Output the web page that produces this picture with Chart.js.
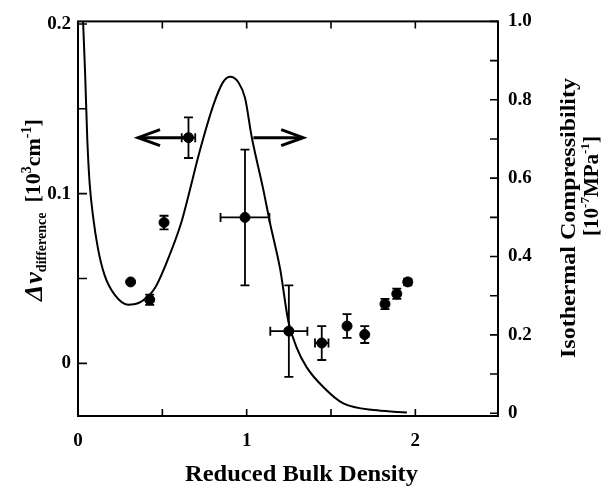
<!DOCTYPE html>
<html>
<head>
<meta charset="utf-8">
<script src="https://cdn.jsdelivr.net/npm/chart.js@4"></script>
<style>
  html, body { margin: 0; background: #fff; }
</style>
</head>
<body>
<canvas id="c" width="607" height="487"></canvas>
<script>
// ## measured points (left axis) ##
const densX = [0.312, 0.425, 0.51, 0.655, 0.99, 1.25, 1.445, 1.595, 1.70, 1.82, 1.89, 1.955];
const deltaNu = [0.048, 0.0375, 0.083, 0.133, 0.086, 0.019, 0.012, 0.022, 0.017, 0.035, 0.041, 0.048];
const deltaNuErr = [0, 0.003, 0.004, 0.012, 0.04, 0.027, 0.01, 0.007, 0.005, 0.003, 0.003, 0.002];
const densErr = [0, 0.012, 0, 0.04, 0.145, 0.11, 0.04, 0, 0, 0, 0, 0];

// ## compressibility curve (right axis) ##
const curveX = [0.022, 0.03, 0.042, 0.055, 0.069, 0.089, 0.119, 0.158, 0.218, 0.296, 0.375, 0.455, 0.534, 0.612, 0.644, 0.723, 0.803, 0.86, 0.902, 0.95, 0.99, 1.03, 1.099, 1.138, 1.198, 1.247, 1.297, 1.356, 1.454, 1.573, 1.773, 1.95];
const curveY = [1.08, 1.0, 0.87, 0.70, 0.587, 0.503, 0.419, 0.352, 0.302, 0.277, 0.285, 0.319, 0.394, 0.486, 0.537, 0.671, 0.787, 0.845, 0.859, 0.845, 0.805, 0.705, 0.570, 0.486, 0.369, 0.235, 0.167, 0.117, 0.067, 0.025, 0.0075, 0.002];

// ## ticks ##
const xTicks = [0, 0.5, 1, 1.5, 2];
const xLabels = ["0", "", "1", "", "2"];
const leftTicks = [0, 0.05, 0.1, 0.15, 0.2];
const leftLabels = ["0", "", "0.1", "", "0.2"];
const rightTicks = [0, 0.1, 0.2, 0.3, 0.4, 0.5, 0.6, 0.7, 0.8, 0.9, 1.0];
const rightLabels = ["0", "", "0.2", "", "0.4", "", "0.6", "", "0.8", "", "1.0"];

// arrows pointing at the axis each series belongs to (data coords)
const arrowY = 0.133;
const leftArrowX = [0.655, 0.356];
const rightArrowX = [1.04, 1.335];

const SERIF = '"Liberation Serif", "Times New Roman", serif';

function labelFor(vals, labels) {
  return (v) => {
    const i = vals.findIndex((t) => Math.abs(t - v) < 1e-9);
    return i < 0 ? "" : labels[i];
  };
}

function onlyLabeled(vals, labels) {
  return (scale) => {
    scale.ticks = vals.filter((v, i) => labels[i] !== "").map((v) => ({ value: v }));
  };
}

function arrow(ctx, x1, x2, y) {
  const dir = Math.sign(x2 - x1);
  ctx.beginPath();
  ctx.moveTo(x1, y);
  ctx.lineTo(x2 - dir * 4, y);
  ctx.stroke();
  ctx.beginPath();
  ctx.moveTo(x2 - dir * 22, y - 8);
  ctx.lineTo(x2, y);
  ctx.lineTo(x2 - dir * 22, y + 8);
  ctx.stroke();
}

// text squeezed/stretched to a given width, left aligned at x
function fitText(ctx, t, font, x, y, w) {
  ctx.font = font;
  const k = w / ctx.measureText(t).width;
  ctx.save();
  ctx.translate(x, y);
  ctx.scale(k, 1);
  ctx.fillText(t, 0, 0);
  ctx.restore();
  return x + w;
}

// draws text pieces one after another along the current x direction
function runs(ctx, parts, x, y) {
  for (const p of parts) {
    ctx.font = p.font;
    ctx.fillText(p.t, x, y + (p.dy || 0));
    x += ctx.measureText(p.t).width + (p.after || 0);
  }
  return x;
}

function runsWidth(ctx, parts) {
  let w = 0;
  for (const p of parts) {
    ctx.font = p.font;
    w += ctx.measureText(p.t).width + (p.after || 0);
  }
  return w;
}

const decor = {
  id: "decor",
  afterDatasetsDraw(chart) {
    const ctx = chart.ctx;
    const a = chart.chartArea;
    const sx = chart.scales.x, sl = chart.scales.yL, sr = chart.scales.yR;
    ctx.save();
    ctx.strokeStyle = "#000";
    ctx.fillStyle = "#000";

    // frame
    ctx.lineWidth = 2;
    ctx.strokeRect(a.left, a.top, a.right - a.left, a.bottom - a.top);

    // inward ticks
    ctx.lineWidth = 1.6;
    ctx.beginPath();
    xTicks.forEach((v) => {
      const px = sx.getPixelForValue(v);
      ctx.moveTo(px, a.bottom); ctx.lineTo(px, a.bottom - 7);
      ctx.moveTo(px, a.top); ctx.lineTo(px, a.top + 7);
    });
    leftTicks.forEach((v) => {
      const py = sl.getPixelForValue(v);
      ctx.moveTo(a.left, py); ctx.lineTo(a.left + 9, py);
    });
    rightTicks.forEach((v) => {
      const py = sr.getPixelForValue(v);
      ctx.moveTo(a.right, py); ctx.lineTo(a.right - 8, py);
    });
    ctx.stroke();

    // error bars
    ctx.lineWidth = 1.8;
    densX.forEach((x, i) => {
      const px = sx.getPixelForValue(x);
      const py = sl.getPixelForValue(deltaNu[i]);
      if (deltaNuErr[i] > 0) {
        const t = sl.getPixelForValue(deltaNu[i] + deltaNuErr[i]);
        const b = sl.getPixelForValue(deltaNu[i] - deltaNuErr[i]);
        ctx.beginPath();
        ctx.moveTo(px, t); ctx.lineTo(px, b);
        ctx.moveTo(px - 4.5, t); ctx.lineTo(px + 4.5, t);
        ctx.moveTo(px - 4.5, b); ctx.lineTo(px + 4.5, b);
        ctx.stroke();
      }
      if (densErr[i] > 0) {
        const l = sx.getPixelForValue(x - densErr[i]);
        const r = sx.getPixelForValue(x + densErr[i]);
        ctx.beginPath();
        ctx.moveTo(l, py); ctx.lineTo(r, py);
        ctx.moveTo(l, py - 4.5); ctx.lineTo(l, py + 4.5);
        ctx.moveTo(r, py - 4.5); ctx.lineTo(r, py + 4.5);
        ctx.stroke();
      }
    });

    // arrows
    ctx.lineWidth = 3;
    ctx.lineJoin = "miter";
    const ay = sl.getPixelForValue(arrowY);
    arrow(ctx, sx.getPixelForValue(leftArrowX[0]), sx.getPixelForValue(leftArrowX[1]), ay);
    arrow(ctx, sx.getPixelForValue(rightArrowX[0]), sx.getPixelForValue(rightArrowX[1]), ay);

    // x title
    ctx.textBaseline = "alphabetic";
    ctx.textAlign = "left";
    fitText(ctx, "Reduced Bulk Density", "bold 24px " + SERIF, 185, 481, 233);

    // left title, reading upwards
    ctx.save();
    ctx.translate(42, 301);
    ctx.rotate(-Math.PI / 2);
    let p = runs(ctx, [
      { t: "\u0394", font: "italic bold 26px " + SERIF, after: 1 },
      { t: "\u03bd", font: "italic bold 26px " + SERIF },
      { t: "difference", font: "bold 14px " + SERIF, dy: 4 },
    ], 0, 0);
    runs(ctx, [
      { t: "[10", font: "bold 22px " + SERIF },
      { t: "3", font: "bold 14px " + SERIF, dy: -9 },
      { t: "cm", font: "bold 22px " + SERIF },
      { t: "-1", font: "bold 14px " + SERIF, dy: -9 },
      { t: "]", font: "bold 22px " + SERIF },
    ], p + 10, -2);
    ctx.restore();

    // right title, two lines reading upwards
    ctx.save();
    ctx.translate(575, 358);
    ctx.rotate(-Math.PI / 2);
    fitText(ctx, "Isothermal Compressibility", "bold 22px " + SERIF, 0, 0, 280);
    ctx.restore();

    ctx.save();
    const unit = [
      { t: "[10", font: "bold 21px " + SERIF },
      { t: "-7", font: "bold 13px " + SERIF, dy: -9 },
      { t: "MPa", font: "bold 21px " + SERIF },
      { t: "-1", font: "bold 13px " + SERIF, dy: -9 },
      { t: "]", font: "bold 21px " + SERIF },
    ];
    ctx.translate(598, 186);
    ctx.rotate(-Math.PI / 2);
    runs(ctx, unit, -runsWidth(ctx, unit) / 2, 0);
    ctx.restore();

    ctx.restore();
  },
};

const tickFont = { family: SERIF, size: 19, weight: "bold" };

new Chart(document.getElementById("c"), {
  data: {
    datasets: [
      {
        type: "line",
        data: curveX.map((x, i) => ({ x: x, y: curveY[i] })),
        yAxisID: "yR",
        borderColor: "#000",
        borderWidth: 2,
        pointRadius: 0,
        cubicInterpolationMode: "monotone",
        fill: false,
      },
      {
        type: "scatter",
        data: densX.map((x, i) => ({ x: x, y: deltaNu[i] })),
        yAxisID: "yL",
        backgroundColor: "#000",
        borderColor: "#000",
        pointRadius: 5,
      },
    ],
  },
  options: {
    responsive: false,
    animation: false,
    devicePixelRatio: 1,
    layout: { padding: { top: 16, left: 0, right: 0, bottom: 0 } },
    plugins: { legend: { display: false }, tooltip: { enabled: false } },
    scales: {
      x: {
        type: "linear",
        min: 0,
        max: 2.49,
        grid: { display: false, drawTicks: false },
        border: { display: false },
        afterBuildTicks: onlyLabeled(xTicks, xLabels),
        afterFit: (s) => { s.height = 71; },
        ticks: { color: "#000", font: tickFont, padding: 14, maxRotation: 0, callback: labelFor(xTicks, xLabels) },
      },
      yL: {
        type: "linear",
        position: "left",
        min: -0.031,
        max: 0.2015,
        grid: { display: false, drawTicks: false },
        border: { display: false },
        afterBuildTicks: onlyLabeled(leftTicks, leftLabels),
        afterFit: (s) => { s.width = 78; },
        ticks: { color: "#000", font: tickFont, padding: 7, callback: labelFor(leftTicks, leftLabels) },
      },
      yR: {
        type: "linear",
        position: "right",
        min: -0.007,
        max: 1.0,
        grid: { display: false, drawTicks: false },
        border: { display: false },
        afterBuildTicks: onlyLabeled(rightTicks, rightLabels),
        afterFit: (s) => { s.width = 109; },
        ticks: { color: "#000", font: tickFont, padding: 10, callback: labelFor(rightTicks, rightLabels) },
      },
    },
  },
  plugins: [decor],
});
</script>
</body>
</html>
